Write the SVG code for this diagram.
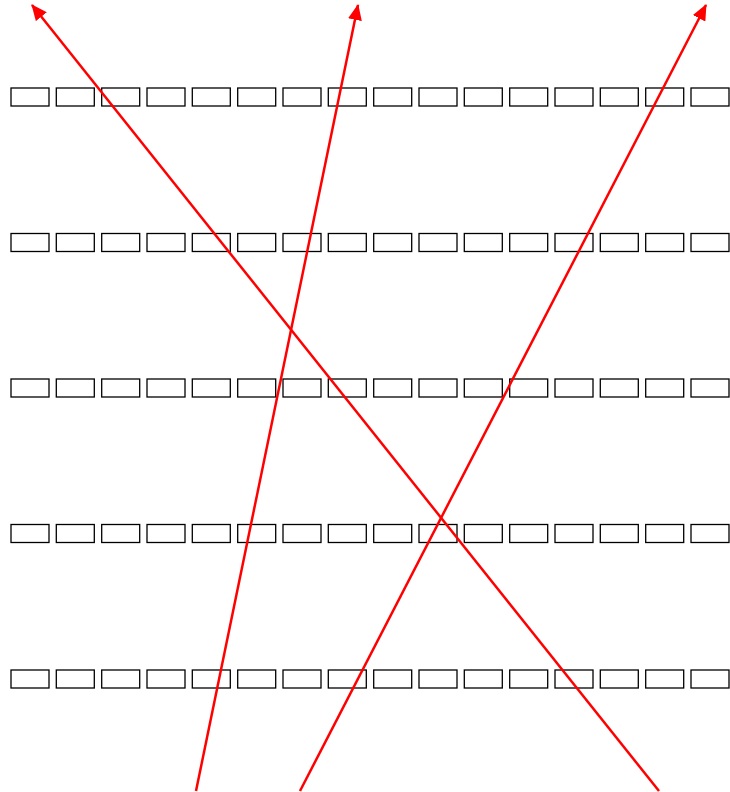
<svg xmlns="http://www.w3.org/2000/svg" width="730" height="792" viewBox="0 0 730 792">
<style>
.b{fill:#fff;stroke:#000;stroke-width:1.3}
.c{stroke:#f00;stroke-width:2.5;fill:none;marker-end:url(#ah)}
</style>
<defs>
<marker id="ah" markerUnits="userSpaceOnUse" markerWidth="16" markerHeight="14" viewBox="0 0 16 14" refX="15" refY="7" orient="auto">
<path d="M0,0 L16,7 L0,14 z" fill="#f00"/>
</marker>
<rect id="r" class="b" width="38" height="18"/>
</defs>
<g id="row1">
<use href="#r" x="11" y="88"/><use href="#r" x="56.3" y="88"/><use href="#r" x="101.7" y="88"/><use href="#r" x="147" y="88"/><use href="#r" x="192.3" y="88"/><use href="#r" x="237.7" y="88"/><use href="#r" x="283" y="88"/><use href="#r" x="328.3" y="88"/><use href="#r" x="373.7" y="88"/><use href="#r" x="419" y="88"/><use href="#r" x="464.3" y="88"/><use href="#r" x="509.7" y="88"/><use href="#r" x="555" y="88"/><use href="#r" x="600.3" y="88"/><use href="#r" x="645.7" y="88"/><use href="#r" x="691" y="88"/>
</g>
<g id="row2">
<use href="#r" x="11" y="233.5"/><use href="#r" x="56.3" y="233.5"/><use href="#r" x="101.7" y="233.5"/><use href="#r" x="147" y="233.5"/><use href="#r" x="192.3" y="233.5"/><use href="#r" x="237.7" y="233.5"/><use href="#r" x="283" y="233.5"/><use href="#r" x="328.3" y="233.5"/><use href="#r" x="373.7" y="233.5"/><use href="#r" x="419" y="233.5"/><use href="#r" x="464.3" y="233.5"/><use href="#r" x="509.7" y="233.5"/><use href="#r" x="555" y="233.5"/><use href="#r" x="600.3" y="233.5"/><use href="#r" x="645.7" y="233.5"/><use href="#r" x="691" y="233.5"/>
</g>
<g id="row3">
<use href="#r" x="11" y="379"/><use href="#r" x="56.3" y="379"/><use href="#r" x="101.7" y="379"/><use href="#r" x="147" y="379"/><use href="#r" x="192.3" y="379"/><use href="#r" x="237.7" y="379"/><use href="#r" x="283" y="379"/><use href="#r" x="328.3" y="379"/><use href="#r" x="373.7" y="379"/><use href="#r" x="419" y="379"/><use href="#r" x="464.3" y="379"/><use href="#r" x="509.7" y="379"/><use href="#r" x="555" y="379"/><use href="#r" x="600.3" y="379"/><use href="#r" x="645.7" y="379"/><use href="#r" x="691" y="379"/>
</g>
<g id="row4">
<use href="#r" x="11" y="524.5"/><use href="#r" x="56.3" y="524.5"/><use href="#r" x="101.7" y="524.5"/><use href="#r" x="147" y="524.5"/><use href="#r" x="192.3" y="524.5"/><use href="#r" x="237.7" y="524.5"/><use href="#r" x="283" y="524.5"/><use href="#r" x="328.3" y="524.5"/><use href="#r" x="373.7" y="524.5"/><use href="#r" x="419" y="524.5"/><use href="#r" x="464.3" y="524.5"/><use href="#r" x="509.7" y="524.5"/><use href="#r" x="555" y="524.5"/><use href="#r" x="600.3" y="524.5"/><use href="#r" x="645.7" y="524.5"/><use href="#r" x="691" y="524.5"/>
</g>
<g id="row5">
<use href="#r" x="11" y="670"/><use href="#r" x="56.3" y="670"/><use href="#r" x="101.7" y="670"/><use href="#r" x="147" y="670"/><use href="#r" x="192.3" y="670"/><use href="#r" x="237.7" y="670"/><use href="#r" x="283" y="670"/><use href="#r" x="328.3" y="670"/><use href="#r" x="373.7" y="670"/><use href="#r" x="419" y="670"/><use href="#r" x="464.3" y="670"/><use href="#r" x="509.7" y="670"/><use href="#r" x="555" y="670"/><use href="#r" x="600.3" y="670"/><use href="#r" x="645.7" y="670"/><use href="#r" x="691" y="670"/>
</g>
<g id="connectors">
<line class="c" x1="659" y1="791" x2="32" y2="5"/>
<line class="c" x1="196" y1="791" x2="358" y2="5"/>
<line class="c" x1="300" y1="791" x2="706" y2="5"/>
</g>
</svg>
